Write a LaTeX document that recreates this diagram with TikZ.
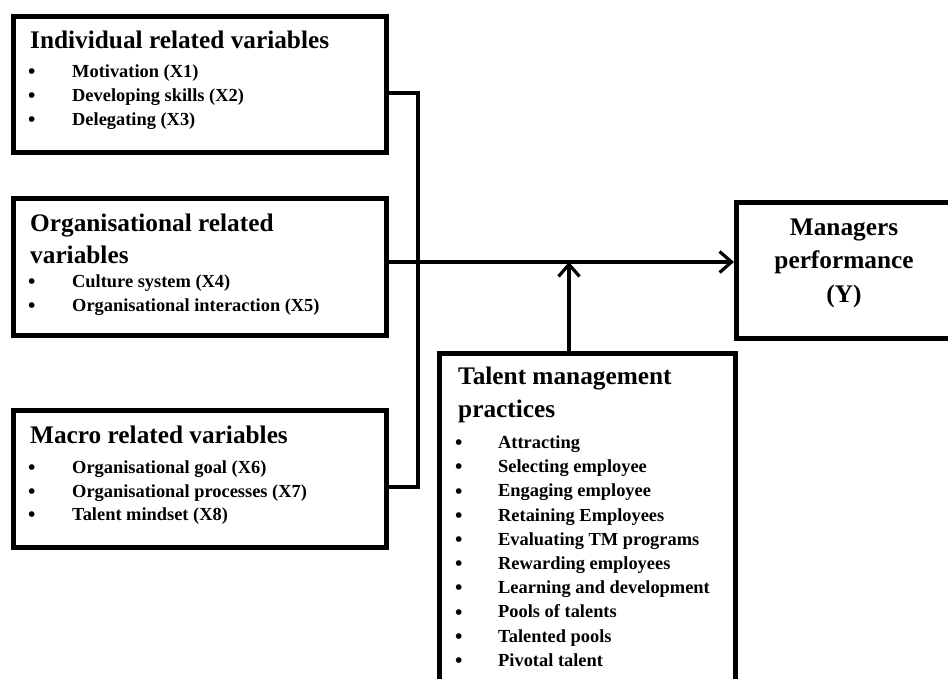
\documentclass[tikz,border=0pt]{standalone}
\usepackage{fontspec}
\setmainfont{Liberation Serif}
\usetikzlibrary{arrows.meta}
\tikzset{
  x=1pt, y=-1pt,
  boxline/.style={draw=black, line width=4.8pt},
  conn/.style={draw=black, line width=3.2pt},
  arr/.style={conn, -{Straight Barb[length=12pt,width=21pt]}},
  ttl/.style={anchor=base west, inner sep=0pt, font=\fontsize{25.3}{30}\selectfont\bfseries},
  ctl/.style={anchor=base, inner sep=0pt, font=\fontsize{25.3}{30}\selectfont\bfseries},
  itm/.style={anchor=base west, inner sep=0pt, font=\fontsize{18.4}{22}\selectfont\bfseries},
  bul/.style={anchor=base west, inner sep=0pt, yshift=-1.5pt, font=\fontsize{21}{22}\selectfont\bfseries},
}
\begin{document}
\begin{tikzpicture}
\useasboundingbox (0,0) rectangle (948,678);
\clip (0,0) rectangle (948,678);
\fill[white] (0,0) rectangle (948,678);

% boxes
\node[boxline, inner sep=0pt, minimum width=373pt, minimum height=136pt, anchor=north west] (ind) at (11,14) {};
\node[boxline, inner sep=0pt, minimum width=373pt, minimum height=137pt, anchor=north west] (org) at (11,196) {};
\node[boxline, inner sep=0pt, minimum width=373pt, minimum height=137pt, anchor=north west] (mac) at (11,408) {};
\node[boxline, inner sep=0pt, minimum width=225pt, minimum height=136pt, anchor=north west] (mgr) at (734,200) {};
\node[boxline, inner sep=0pt, minimum width=296pt, minimum height=360pt, anchor=north west] (tal) at (437,351) {};

% individual text
\node[ttl] (t1) at (30,48) {Individual related variables};
\node[bul] (b11) at (28,77) {\textbullet};
\node[itm] (i11) at (72,77) {Motivation (X1)};
\node[bul] (b12) at (28,101) {\textbullet};
\node[itm] (i12) at (72,101) {Developing skills (X2)};
\node[bul] (b13) at (28,125) {\textbullet};
\node[itm] (i13) at (72,125) {Delegating (X3)};

% organisational text
\node[ttl] (t2a) at (30,231) {Organisational related};
\node[ttl] (t2b) at (30,263) {variables};
\node[bul] (b21) at (28,287) {\textbullet};
\node[itm] (i21) at (72,287) {Culture system (X4)};
\node[bul] (b22) at (28,311) {\textbullet};
\node[itm] (i22) at (72,311) {Organisational interaction (X5)};

% macro text
\node[ttl] (t3) at (30,443) {Macro related variables};
\node[bul] (b31) at (28,473) {\textbullet};
\node[itm] (i31) at (72,473) {Organisational goal (X6)};
\node[bul] (b32) at (28,497) {\textbullet};
\node[itm] (i32) at (72,497) {Organisational processes (X7)};
\node[bul] (b33) at (28,520) {\textbullet};
\node[itm] (i33) at (72,520) {Talent mindset (X8)};

% managers text
\node[ctl] (m1) at (844,235) {Managers};
\node[ctl] (m2) at (844,268) {performance};
\node[ctl] (m3) at (844,302) {(Y)};

% talent text
\node[ttl] (t4a) at (458,384) {Talent management};
\node[ttl] (t4b) at (458,417) {practices};
\foreach \n/\yy/\txt in {1/448/Attracting, 2/472/Selecting employee, 3/496.5/Engaging employee, 4/521/Retaining Employees, 5/545/Evaluating TM programs, 6/569/Rewarding employees, 7/593/Learning and development, 8/617.5/Pools of talents, 9/642/Talented pools, 10/666/Pivotal talent}{
  \node[bul] (tb\n) at (455,\yy) {\textbullet};
  \node[itm] (ti\n) at (498,\yy) {\txt};
}

% connectors
\coordinate (jtop) at (418,93);
\coordinate (jbot) at (418,487);
\coordinate (meet) at (569,262);
\draw[conn] (ind.east |- jtop) -- (jtop) -- (jbot) -- (mac.east |- jbot);
\draw[arr] (org.east |- meet) -- (mgr.west |- meet);
\draw[arr] (tal.north -| meet) -- (meet);
\end{tikzpicture}
\end{document}
